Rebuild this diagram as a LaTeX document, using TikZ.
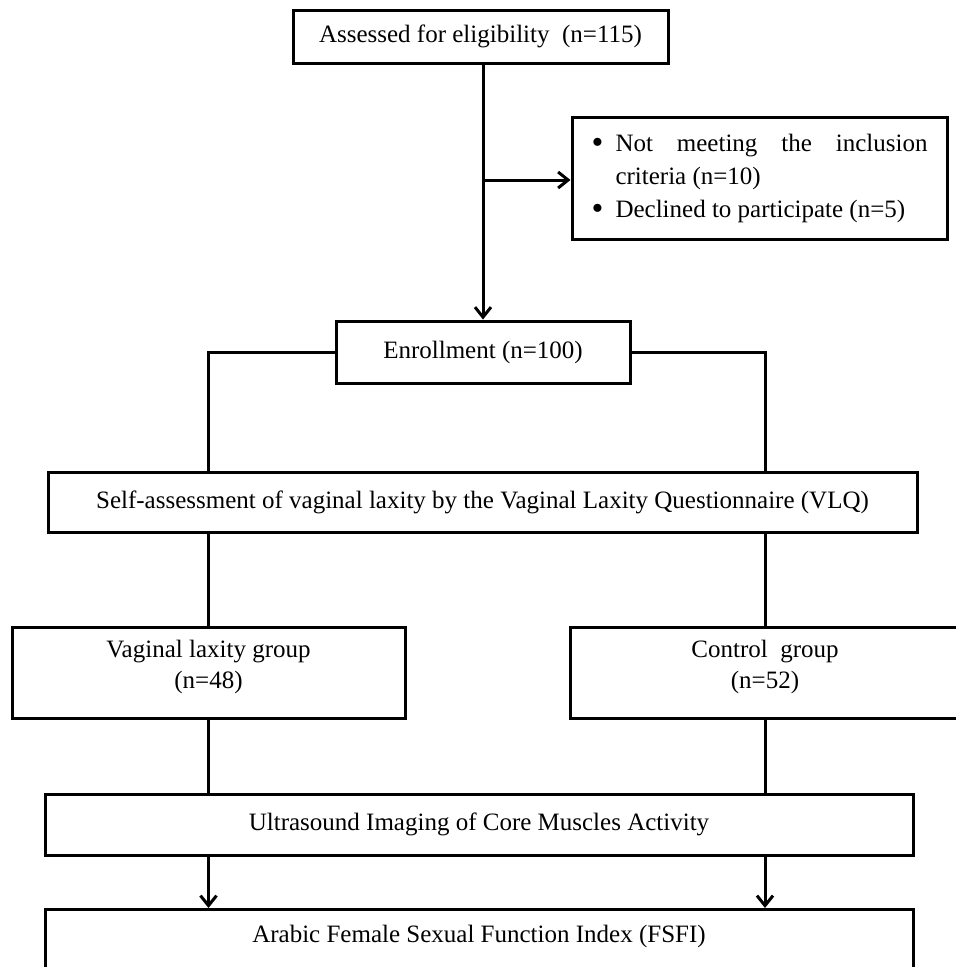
\documentclass[tikz,border=0pt]{standalone}
\usepackage{fontspec}
\setmainfont{Liberation Serif}
\usetikzlibrary{arrows.meta}
\tikzset{
  box/.style={draw, line width=3pt, align=center, inner sep=0pt, font=\fontsize{25}{33}\selectfont},
  lbl/.style={align=center, inner sep=0pt, font=\fontsize{25}{31}\selectfont},
  conn/.style={line width=3pt},
  arr/.style={line width=3pt, -{Straight Barb[length=10pt,width=16pt,line width=3pt]}},
}
\newcommand{\bul}{\makebox[24pt][l]{\raisebox{-2.5pt}{\scalebox{1.35}{\textbullet}}}}
\begin{document}
\begin{tikzpicture}[x=1pt,y=-1pt]
\useasboundingbox (0,0) rectangle (956,967);
\clip (0,0) rectangle (956,967);
\node[box, minimum width=375pt, minimum height=53pt] (top) at (480.5,36.5) {Assessed for eligibility\ \ (n=115)};
\node[box, minimum width=375pt, minimum height=122pt, text width=336pt, align=justify, font=\fontsize{25}{33}\selectfont] (excl) at (759.5,178)
  {\parindent=0pt\hangindent=24pt\hangafter=1\bul Not meeting the inclusion\linebreak criteria (n=10)\par
   \hangindent=24pt\hangafter=1\bul Declined to participate (n=5)};
\node[box, minimum width=294pt, minimum height=62pt] (enroll) at (483,352) {Enrollment (n=100)};
\node[box, minimum width=869pt, minimum height=60pt] (vlq) at (482.5,502) {Self-assessment of vaginal laxity by the Vaginal Laxity Questionnaire (VLQ)};
\node[box, minimum width=393pt, minimum height=91pt] (lax) at (208.5,672.5) {};
\node[lbl] (laxt) at ([yshift=6pt]lax.center) {Vaginal laxity group\\(n=48)};
\node[box, minimum width=390pt, minimum height=91pt] (ctrl) at (765,672.5) {};
\node[lbl] (ctrlt) at ([yshift=6pt]ctrl.center) {Control\ \ group\\(n=52)};
\node[box, minimum width=868pt, minimum height=61pt] (us) at (479,824.5) {Ultrasound Imaging of Core Muscles Activity};
\node[box, anchor=north, minimum width=868pt, inner ysep=15pt, text height=18pt, text depth=60pt] (fsfi) at (479,908) {Arabic Female Sexual Function Index (FSFI)};
\coordinate (br) at (enroll.north |- 0,180);
\draw[arr] (top.south -| enroll.north) -- (enroll.north);
\draw[arr] (br) -- (br -| excl.west);
\draw[conn] (enroll.west) -| (vlq.north -| lax.north);
\draw[conn] (enroll.east) -| (vlq.north -| ctrl.north);
\draw[conn] (vlq.south -| lax.north) -- (lax.north);
\draw[conn] (vlq.south -| ctrl.north) -- (ctrl.north);
\draw[conn] (lax.south) -- (us.north -| lax.south);
\draw[conn] (ctrl.south) -- (us.north -| ctrl.south);
\draw[arr] (us.south -| lax.south) -- (fsfi.north -| lax.south);
\draw[arr] (us.south -| ctrl.south) -- (fsfi.north -| ctrl.south);
\end{tikzpicture}
\end{document}
